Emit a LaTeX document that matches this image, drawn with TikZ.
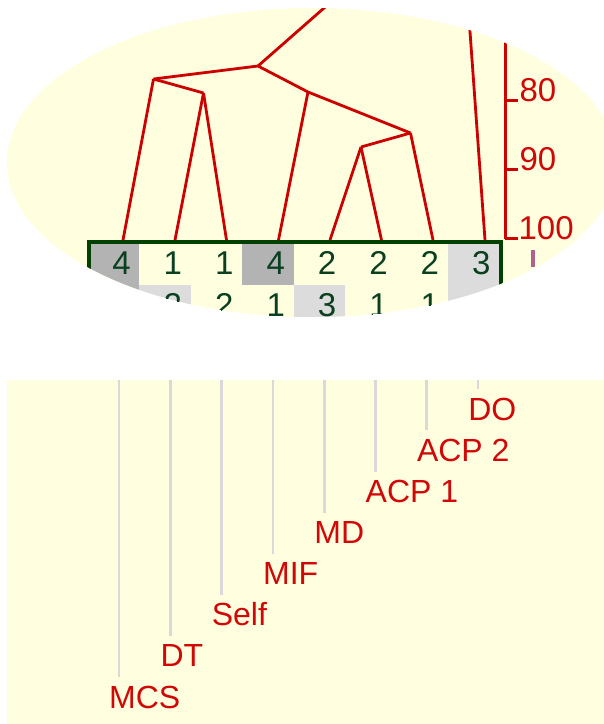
\documentclass[tikz,border=0pt]{standalone}
\usepackage{fontspec}
\setmainfont{Liberation Sans}
\definecolor{lens}{HTML}{FFFFE0}
\definecolor{treered}{HTML}{CC0000}
\definecolor{boxgreen}{HTML}{004000}
\definecolor{cellgray}{HTML}{B3B3B3}
\definecolor{celllight}{HTML}{DCDCDC}
\definecolor{guide}{HTML}{D9D9D9}
\definecolor{labelred}{HTML}{D00808}
\definecolor{digitgreen}{HTML}{0A4020}
\definecolor{fragcol}{HTML}{B0608A}
\begin{document}
\begin{tikzpicture}[x=1pt,y=-1pt,
  branch/.style={draw=treered, line width=2.8pt, line join=round},
  axisline/.style={draw=treered, line width=2.7pt},
  guideline/.style={draw=guide, line width=2.7pt},
  digit/.style={inner sep=0pt, text=digitgreen, font=\fontsize{33}{38}\selectfont},
  scalelbl/.style={inner sep=0pt, text=labelred, font=\fontsize{33}{38}\selectfont},
  lbl/.style={inner sep=0pt, text=labelred, font=\fontsize{32}{38}\selectfont}]
\useasboundingbox (0,0) rectangle (604,724);

% ---------------- magnifier lens ----------------
\begin{scope}
  \clip (312,162.5) ellipse [x radius=305pt, y radius=154.5pt];
  \fill[lens] (0,0) rectangle (620,340);

  % table cells, first and second row
  \foreach \c [count=\k from 0] in {cellgray,lens,lens,cellgray,lens,lens,lens,celllight}
    \fill[\c] ({88+51.4*\k},244) rectangle ({88+51.4*(\k+1)},285);
  \foreach \c [count=\k from 0] in {cellgray,celllight,lens,lens,celllight,lens,lens,celllight}
    \fill[\c] ({88+51.4*\k},285) rectangle ({88+51.4*(\k+1)},340);

  % cell values
  \foreach \d [count=\k from 0] in {4,1,1,4,2,2,2,3}
    \node[digit, anchor=base east] (ra\k) at ({88+51.4*(\k+1)-8.5},274) {\d};
  \foreach \d/\k in {2/1,2/2,1/3,3/4,1/5,1/6}
    \node[digit, anchor=base east] (rb\k) at ({88+51.4*(\k+1)-8.5},316) {\d};

  % dendrogram: leaves and joins
  \coordinate (l1) at (123,240);
  \coordinate (l2) at (175,240);
  \coordinate (l3) at (226.5,240);
  \coordinate (l4) at (278.5,240);
  \coordinate (l5) at (330,240);
  \coordinate (l6) at (381.5,240);
  \coordinate (l7) at (433,240);
  \coordinate (l8) at (485,240);
  \coordinate (nA) at (153.5,79);
  \coordinate (nB) at (203.5,93);
  \coordinate (nR) at (258,66);
  \coordinate (nC) at (308,92);
  \coordinate (nD) at (410.5,133);
  \coordinate (nE) at (361,147);
  \coordinate (rootup) at (340,-6);
  \coordinate (l8up) at (467,-10);

  \draw[branch] (nR) -- (rootup);
  \draw[branch] (nR) -- (nA);
  \draw[branch] (nA) -- (l1);
  \draw[branch] (nA) -- (nB);
  \draw[branch] (nB) -- (l2);
  \draw[branch] (nB) -- (l3);
  \draw[branch] (nR) -- (nC);
  \draw[branch] (nC) -- (l4);
  \draw[branch] (nC) -- (nD);
  \draw[branch] (nD) -- (l7);
  \draw[branch] (nD) -- (nE);
  \draw[branch] (nE) -- (l5);
  \draw[branch] (nE) -- (l6);
  \draw[branch] (l8) -- (l8up);

  % similarity scale
  \coordinate (axtop) at (505.3,0);
  \coordinate (ax80) at (505.3,100.3);
  \coordinate (ax90) at (505.3,169.7);
  \coordinate (ax100) at (505.3,238.7);
  \coordinate (tk80) at (518,100.3);
  \coordinate (tk90) at (518,169.7);
  \coordinate (tk100) at (518,238.7);
  \draw[axisline] (axtop) -- (ax100);
  \draw[axisline] (ax80) -- (tk80);
  \draw[axisline] (ax90) -- (tk90);
  \draw[axisline] (ax100) -- (tk100);
  \node[scalelbl, anchor=base west] (s80) at (519.4,101.5) {80};
  \node[scalelbl, anchor=base west] (s90) at (519.4,170.8) {90};
  \node[scalelbl, anchor=base west] (s100) at (518.4,239.8) {100};
  \draw[fragcol, line width=3.5pt] (533,250) -- (533,267);

  % frame around the first row
  \draw[boxgreen, line width=4pt] (89.3,242) rectangle (501,345);
\end{scope}

% ---------------- label panel ----------------
\fill[lens] (7,380) rectangle (604,724);
\foreach \n [count=\i from 0] in {MCS,DT,Self,MIF,MD,ACP 1,ACP 2,DO} {
  \coordinate (gt\i) at ({119+51.3*\i},380);
  \coordinate (gb\i) at ({119+51.3*\i},{677-41.1*\i});
  \draw[guideline] (gt\i) -- (gb\i);
  \node[lbl, anchor=base west] (lab\i) at ({109+51.3*\i},{708-41.1*\i}) {\n};
}
\end{tikzpicture}
\end{document}
